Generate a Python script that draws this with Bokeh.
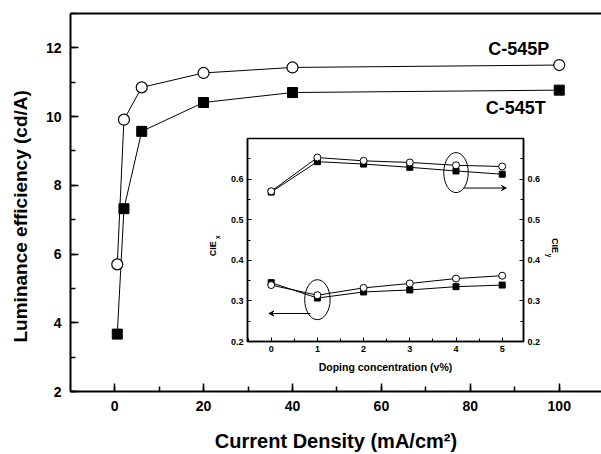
import math
from bokeh.plotting import figure
from bokeh.models import (Range1d, LinearAxis, SingleIntervalTicker, FixedTicker, Label, Arrow,
                          VeeHead, GridBox, Title)
from bokeh.embed import file_html
from bokeh.resources import INLINE

# ---- main chart data ----
density = [0.6, 2.1, 6.1, 20, 40, 100]              # mA/cm^2
eff_545P = [5.70, 9.91, 10.85, 11.27, 11.43, 11.50]  # cd/A
eff_545T = [3.67, 7.32, 9.57, 10.41, 10.70, 10.77]   # cd/A

# ---- inset data ----
doping = [0, 1, 2, 3, 4, 5]                          # v%
ciey_545P = [0.570, 0.653, 0.645, 0.641, 0.634, 0.631]
ciey_545T = [0.568, 0.643, 0.637, 0.629, 0.620, 0.612]
ciex_545P = [0.339, 0.314, 0.332, 0.343, 0.355, 0.362]
ciex_545T = [0.345, 0.307, 0.322, 0.327, 0.335, 0.339]

FONT = "Liberation Sans"
W, H = 601, 454


def style_axis(ax, size, tick_in, minor_in, lw, tlw, standoff):
    ax.axis_line_width = lw
    ax.axis_line_color = "black"
    ax.major_tick_line_width = tlw
    ax.minor_tick_line_width = tlw
    ax.major_tick_in = tick_in
    ax.major_tick_out = 0
    ax.minor_tick_in = minor_in
    ax.minor_tick_out = 0
    ax.major_label_standoff = standoff
    ax.major_label_text_font = FONT
    ax.major_label_text_font_style = "bold"
    ax.major_label_text_font_size = size
    ax.major_label_text_color = "black"
    ax.axis_label_text_font = FONT
    ax.axis_label_text_font_style = "bold"
    ax.axis_label_text_color = "black"


# ================= main figure =================
p = figure(width=W, height=H, x_range=Range1d(-9.92, 109.5), y_range=Range1d(2, 13),
           output_backend="svg", toolbar_location=None, frame_align=False,
           min_border_left=68, min_border_right=0, min_border_top=13, min_border_bottom=62)
p.xgrid.visible = False
p.ygrid.visible = False
p.outline_line_color = None
p.background_fill_color = "white"
p.border_fill_color = "white"

p.xaxis.ticker = SingleIntervalTicker(interval=20, num_minor_ticks=2)
p.yaxis.ticker = SingleIntervalTicker(interval=2, num_minor_ticks=2)
for ax in (p.xaxis[0], p.yaxis[0]):
    style_axis(ax, "14px", 8, 5, 2, 1.5, 9)

p.xaxis.axis_label = "Current Density (mA/cm\u00b2)"
p.xaxis.axis_label_text_font_size = "20px"
p.xaxis.axis_label_standoff = 16

p.add_layout(Title(text="Luminance efficiency (cd/A)", align="left", offset=49,
                   vertical_align="top", standoff=19, text_font=FONT,
                   text_font_style="bold", text_font_size="19px", text_color="black"), "left")

top_axis = LinearAxis(ticker=FixedTicker(ticks=[]), axis_line_width=2, axis_line_color="black",
                      major_tick_in=0, major_tick_out=0, minor_tick_in=0, minor_tick_out=0)
p.add_layout(top_axis, "above")

p.line(density, eff_545P, line_color="black", line_width=1)
p.line(density, eff_545T, line_color="black", line_width=1)
p.scatter(density, eff_545P, marker="circle", size=11, fill_color="white",
          line_color="black", line_width=1.2)
p.scatter(density, eff_545T, marker="square", size=10, fill_color="black",
          line_color="black", line_width=1)

p.add_layout(Label(x=90.9, y=11.97, text="C-545P", text_font=FONT, text_font_style="bold",
                   text_font_size="18px", text_align="center", text_baseline="middle",
                   text_color="black"))
p.add_layout(Label(x=90.2, y=10.26, text="C-545T", text_font=FONT, text_font_style="bold",
                   text_font_size="18px", text_align="center", text_baseline="middle",
                   text_color="black"))

# ================= inset figure =================
IX0, IY0 = 195, 125                # inset canvas offset on the page
IBL, IBR, IBT, IBB = 52, 42, 13, 35  # inset borders
IW, IH = 370, 251
ins_x = Range1d(-0.513, 5.461)
ins_y = Range1d(0.2, 0.7)
ins = figure(width=IW, height=IH, x_range=ins_x, y_range=ins_y,
             output_backend="svg", toolbar_location=None, frame_align=False,
             min_border_left=IBL, min_border_right=IBR, min_border_top=IBT, min_border_bottom=IBB)
ins.margin = (IY0, 0, 0, IX0)
ins.xgrid.visible = False
ins.ygrid.visible = False
ins.background_fill_color = None
ins.border_fill_color = None
ins.outline_line_color = "black"
ins.outline_line_width = 1.5

ins.xaxis.ticker = SingleIntervalTicker(interval=1, num_minor_ticks=2)
ins.yaxis.ticker = SingleIntervalTicker(interval=0.1, num_minor_ticks=2)
right_axis = LinearAxis(ticker=SingleIntervalTicker(interval=0.1, num_minor_ticks=2))
ins.add_layout(right_axis, "right")
for ax in (ins.xaxis[0], ins.yaxis[0], right_axis):
    style_axis(ax, "9px", 4, 3, 1.5, 1, 4)

ins.xaxis.axis_label = "Doping concentration (v%)"
ins.xaxis.axis_label_text_font_size = "10.5px"
ins.xaxis.axis_label_standoff = 6

for ys in (ciey_545P, ciey_545T, ciex_545P, ciex_545T):
    ins.line(doping, ys, line_color="black", line_width=1)
for ys in (ciey_545T, ciex_545T):
    ins.scatter(doping, ys, marker="square", size=6, fill_color="black", line_color="black")
for ys in (ciey_545P, ciex_545P):
    ins.scatter(doping, ys, marker="circle", size=7, fill_color="white", line_color="black",
                line_width=1)

ins.ellipse(x=[1, 4], y=[0.303, 0.616], width=[0.55, 0.53], height=[0.0985, 0.0985],
            fill_color=None, line_color="black", line_width=1)
ins.add_layout(Arrow(x_start=0.85, y_start=0.269, x_end=-0.05, y_end=0.269, line_width=1,
                     end=VeeHead(size=5, line_width=1, fill_color="black")))
ins.add_layout(Arrow(x_start=4.17, y_start=0.578, x_end=5.09, y_end=0.578, line_width=1,
                     end=VeeHead(size=5, line_width=1, fill_color="black")))

# ===== label layer: transparent page-sized figure sharing the inset's data coordinates =====
fx0, fx1 = IX0 + IBL, IX0 + IW - IBR       # inset frame, page px
fy0, fy1 = IY0 + IBT, IY0 + IH - IBB
sx = (fx1 - fx0) / (ins_x.end - ins_x.start)
sy = (fy1 - fy0) / (ins_y.end - ins_y.start)
lab_x = Range1d(ins_x.start - fx0 / sx, ins_x.start + (W - fx0) / sx)
lab_y = Range1d(ins_y.start - (H - fy1) / sy, ins_y.end + fy0 / sy)
lab = figure(width=W, height=H, x_range=lab_x, y_range=lab_y, output_backend="svg",
             toolbar_location=None, frame_align=False, min_border=0,
             x_axis_location=None, y_axis_location=None)
lab.xgrid.visible = False
lab.ygrid.visible = False
lab.outline_line_color = None
lab.background_fill_color = None
lab.border_fill_color = None

for txt, x, y, ang, fs in [("CIE", -1.249, 0.4286, math.pi / 2, "9px"),
                           ("x", -1.162, 0.457, math.pi / 2, "6.5px"),
                           ("CIE", 6.149, 0.4365, -math.pi / 2, "9px"),
                           ("y", 6.02, 0.4118, -math.pi / 2, "6.5px")]:
    lab.add_layout(Label(x=x, y=y, text=txt, angle=ang, text_font=FONT, text_font_style="bold",
                         text_font_size=fs, text_color="black", text_align="center",
                         text_baseline="middle"))

layout = GridBox(children=[(p, 0, 0), (ins, 0, 0), (lab, 0, 0)])

open("out.html", "w").write(file_html(layout, INLINE))
